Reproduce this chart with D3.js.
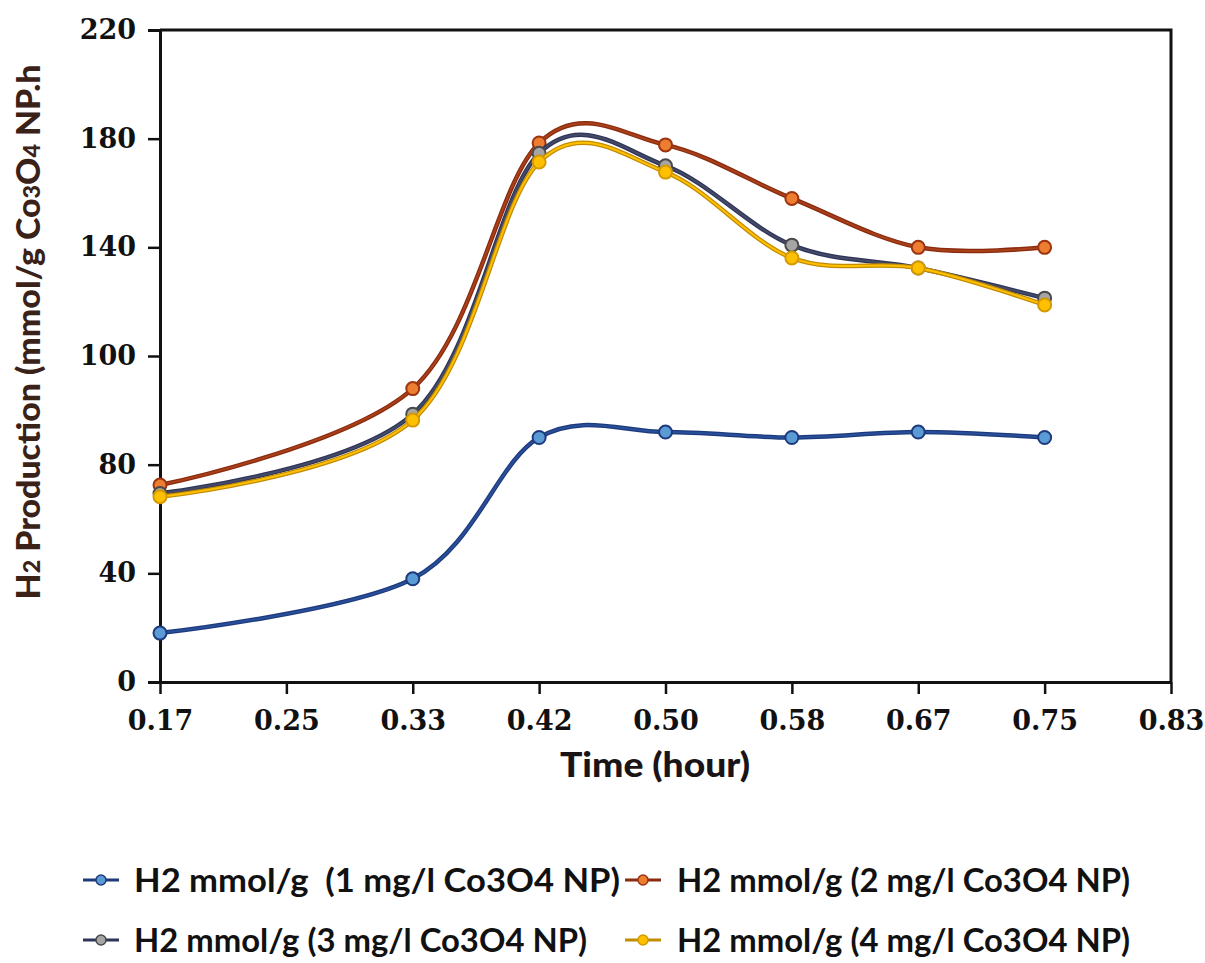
<!DOCTYPE html>
<html>
<head>
<meta charset="utf-8">
<script src="https://cdn.jsdelivr.net/npm/d3@7"></script>
<style>
  body { margin: 0; background: #fff; }
</style>
</head>
<body>
<div id="chartContainer"></div>
<script>
// x tick labels (hours) and the times that were sampled
const xLabels = ["0.17", "0.25", "0.33", "0.42", "0.50", "0.58", "0.67", "0.75", "0.83"];
const times = ["0.17", "0.33", "0.42", "0.50", "0.58", "0.67", "0.75"];
// y tick labels, as printed on the chart (evenly spaced)
const yTicks = [0, 40, 80, 100, 140, 180, 220];

// H2 production for each catalyst loading
const h2_1mg = [18, 38, 85, 86, 85, 86, 85];
const h2_2mg = [72.5, 94, 178.4, 177.7, 158, 140, 140];
const h2_3mg = [69.4, 89.3, 174.6, 170, 140.8, 132.4, 121.3];
const h2_4mg = [68.2, 88.2, 171.4, 167.7, 136.1, 132.4, 118.8];

const seriesNames = [
    "H2 mmol/g  (1 mg/l Co3O4 NP)",
    "H2 mmol/g (2 mg/l Co3O4 NP)",
    "H2 mmol/g (3 mg/l Co3O4 NP)",
    "H2 mmol/g (4 mg/l Co3O4 NP)"
];

const width = 1205;
const height = 963;
const marginTop = 30;
const marginLeft = 160;
const plotRight = 1171;
const plotBottom = 682;

const styles = [
    { line: "#1d3b7c", inner: "#2a4f9a", fill: "#5b9bd5", stroke: "#1d3b7c" },
    { line: "#8a2a0e", inner: "#a8401a", fill: "#ed7d31", stroke: "#9c3410" },
    { line: "#2f3558", inner: "#444a68", fill: "#a5a5a5", stroke: "#4a4a4a" },
    { line: "#c28b00", inner: "#ffc000", fill: "#ffc000", stroke: "#d49a00" }
];

const allSeries = [h2_1mg, h2_2mg, h2_3mg, h2_4mg];

const x = d3.scalePoint().domain(xLabels).range([marginLeft, plotRight]);
const yStep = (plotBottom - marginTop) / (yTicks.length - 1);
const y = d3.scaleLinear()
    .domain(yTicks)
    .range(yTicks.map((d, i) => plotBottom - i * yStep));

const svg = d3.create("svg")
    .attr("width", width)
    .attr("height", height)
    .attr("viewBox", [0, 0, width, height]);

document.getElementById('chartContainer').appendChild(svg.node());

// frame on top and right
svg.append("path")
    .attr("d", `M${marginLeft},${marginTop}H${plotRight}V${plotBottom}`)
    .attr("fill", "none")
    .attr("stroke", "#111")
    .attr("stroke-width", 3);

// axes
const tickFont = "'DejaVu Serif', serif";

const yAxis = svg.append("g")
    .attr("transform", `translate(${marginLeft},0)`)
    .call(d3.axisLeft(y).tickValues(yTicks).tickSize(12).tickPadding(12).tickFormat(d => d));
yAxis.select(".domain").attr("stroke", "#111").attr("stroke-width", 3);
yAxis.selectAll(".tick line").attr("stroke", "#111").attr("stroke-width", 2.5);
yAxis.selectAll(".tick text")
    .attr("font-family", tickFont)
    .attr("font-weight", "bold")
    .attr("font-size", 27)
    .attr("fill", "#111");

const xAxis = svg.append("g")
    .attr("transform", `translate(0,${plotBottom})`)
    .call(d3.axisBottom(x).tickSize(12).tickPadding(17).tickSizeOuter(0));
xAxis.select(".domain").attr("stroke", "#111").attr("stroke-width", 3);
xAxis.selectAll(".tick line").attr("stroke", "#111").attr("stroke-width", 2.5);
xAxis.selectAll(".tick text")
    .attr("font-family", tickFont)
    .attr("font-weight", "bold")
    .attr("font-size", 27)
    .attr("fill", "#111");

// axis titles
svg.append("text")
    .attr("x", 655)
    .attr("y", 777)
    .attr("text-anchor", "middle")
    .attr("font-family", "Lato, sans-serif")
    .attr("font-weight", "900")
    .attr("font-size", 34)
    .attr("fill", "#1a1416")
    .attr("textLength", 190)
    .attr("lengthAdjust", "spacingAndGlyphs")
    .text("Time (hour)");

const yTitle = svg.append("text")
    .attr("transform", "translate(40,332) rotate(-90)")
    .attr("text-anchor", "middle")
    .attr("font-family", "Lato, sans-serif")
    .attr("font-weight", "900")
    .attr("font-size", 32)
    .attr("fill", "#3a2218")
    .attr("textLength", 535)
    .attr("lengthAdjust", "spacingAndGlyphs");
yTitle.append("tspan").text("H");
yTitle.append("tspan").attr("font-size", 22).text("2");
yTitle.append("tspan").text(" Production (mmol/g Co");
yTitle.append("tspan").attr("font-size", 22).text("3");
yTitle.append("tspan").text("O");
yTitle.append("tspan").attr("font-size", 22).text("4");
yTitle.append("tspan").text(" NP.h");

// smooth lines like the spreadsheet
const line = d3.line()
    .x((d, i) => x(times[i]))
    .y(d => y(d))
    .curve(d3.curveCardinal.tension(0));

allSeries.forEach((values, k) => {
    const st = styles[k];
    svg.append("path")
        .attr("fill", "none")
        .attr("stroke", st.line)
        .attr("stroke-width", 4.5)
        .attr("d", line(values));
    svg.append("path")
        .attr("fill", "none")
        .attr("stroke", st.inner)
        .attr("stroke-width", 2)
        .attr("d", line(values));
    svg.append("g")
        .selectAll("circle")
        .data(values)
        .join("circle")
        .attr("cx", (d, i) => x(times[i]))
        .attr("cy", d => y(d))
        .attr("r", 6.5)
        .attr("fill", st.fill)
        .attr("stroke", st.stroke)
        .attr("stroke-width", 2);
});

// legend, two rows of two
const legendPos = [
    { mx: 101, tx: 134, y: 880, w: 486 },
    { mx: 643, tx: 677, y: 880, w: 453 },
    { mx: 101, tx: 134, y: 940, w: 453 },
    { mx: 643, tx: 677, y: 940, w: 453 }
];

const legend = svg.append("g");
seriesNames.forEach((name, k) => {
    const p = legendPos[k];
    const st = styles[k];
    legend.append("line")
        .attr("x1", p.mx - 18)
        .attr("x2", p.mx + 18)
        .attr("y1", p.y)
        .attr("y2", p.y)
        .attr("stroke", st.line)
        .attr("stroke-width", 3);
    legend.append("circle")
        .attr("cx", p.mx)
        .attr("cy", p.y)
        .attr("r", 5)
        .attr("fill", st.fill)
        .attr("stroke", st.stroke)
        .attr("stroke-width", 1.5);
    legend.append("text")
        .attr("x", p.tx)
        .attr("y", p.y)
        .attr("dy", "0.36em")
        .attr("font-family", "Lato, sans-serif")
        .attr("font-weight", "bold")
        .attr("font-size", 33)
        .attr("fill", "#111")
        .attr("textLength", p.w)
        .attr("lengthAdjust", "spacingAndGlyphs")
        .style("white-space", "pre")
        .text(name);
});
</script>
</body>
</html>
